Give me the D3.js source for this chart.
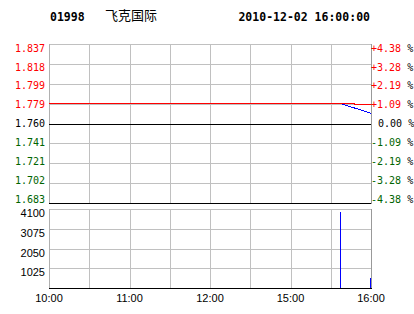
<!DOCTYPE html>
<html><head><meta charset="utf-8">
<script src="https://cdn.jsdelivr.net/npm/d3@7"></script>
<style>
html,body{margin:0;padding:0;background:#fff;}
svg{display:block;}
</style></head>
<body>
<svg id="c" width="414" height="314"></svg>
<script>
// ---- data ----
const stockCode = "01998";
const stockName = "飞克国际";
const stamp = "2010-12-02 16:00:00";
const prevClose = 1.760;
const pctMax = 4.38;
const priceTickLabels = ["1.837","1.818","1.799","1.779","1.760","1.741","1.721","1.702","1.683"];
const pctTickLabels = ["+4.38","+3.28","+2.19","+1.09","0.00","-1.09","-2.19","-3.28","-4.38"];
const volTickValues = [4100, 3075, 2050, 1025];
const timeTickLabels = ["10:00","11:00","12:00","15:00","16:00"];
const priceTimes = ["15:38","16:00"];
const priceValues = [1.779, 1.770];
const avgTimes = ["10:00","15:48","15:48","16:00"];
const avgValues = [1.779, 1.779, 1.778, 1.778];
const volTimes = ["15:38","16:00"];
const volValues = [3950, 520];

// ---- helpers ----
function tradeMin(s){
  const [h,m] = s.split(":").map(Number);
  const t = h*60+m;
  if (t <= 12*60+30) return t - 600;
  return 150 + (t - (14*60+30));
}
const svg = d3.select("#c");
const L = 49, R = 371;
const mTop = 44, mBot = 203, vTop = 209, vBot = 288;
const x = d3.scaleLinear().domain([0,240]).range([L,R]);
const yP = d3.scaleLinear().domain([prevClose*(1-pctMax/100), prevClose*(1+pctMax/100)]).range([mBot,mTop]);
const yLab = d3.scaleLinear().domain([0,8]).range([48,199]);
const yV = d3.scaleLinear().domain([0,4100]).range([vBot,vTop]);
const px = v => Math.round(v)+0.5;
const grid = "#c0c0c0";
const RED="#ff0000", GREEN="#006400", BLACK="#000";

// title
const mono = "'DejaVu Sans Mono','Liberation Mono',monospace";
svg.append("text").attr("x",50).attr("y",20.5).attr("font-family",mono).attr("font-weight","bold")
  .attr("font-size","11.5px").text(stockCode);
svg.append("text").attr("x",105).attr("y",20).attr("font-family","'Noto Sans CJK SC',sans-serif")
  .attr("font-size","13px").text(stockName);
svg.append("text").attr("x",370).attr("y",20.5).attr("text-anchor","end").attr("font-family",mono).attr("font-weight","bold")
  .attr("font-size","11.5px").text(stamp);

const g = svg.append("g").attr("shape-rendering","crispEdges");

// vertical grid lines every 30 min
const vgrid = d3.range(30,240,30);
[[mTop,mBot],[vTop,vBot]].forEach(([t,b])=>{
  g.selectAll(null).data(vgrid).enter().append("line")
    .attr("x1",d=>px(x(d))).attr("x2",d=>px(x(d))).attr("y1",t).attr("y2",b).attr("stroke",grid);
});

// main horizontal grid
const priceTickVals = priceTickLabels.map((_,i)=>prevClose*(1+pctMax/100*(4-i)/4));
g.selectAll(null).data(priceTickVals).enter().append("line")
  .attr("x1",L).attr("x2",R+1).attr("y1",d=>px(yP(d))).attr("y2",d=>px(yP(d)))
  .attr("stroke",(d,i)=> i===4||i===8 ? BLACK : grid);
// borders main
g.append("line").attr("x1",px(L)).attr("x2",px(L)).attr("y1",mTop).attr("y2",mBot).attr("stroke","#b0b0b0");
g.append("line").attr("x1",px(R)).attr("x2",px(R)).attr("y1",mTop).attr("y2",mBot+1).attr("stroke","#999");
// redraw black lines over borders
[4,8].forEach(i=>g.append("line").attr("x1",L).attr("x2",R).attr("y1",px(yP(priceTickVals[i]))).attr("y2",px(yP(priceTickVals[i]))).attr("stroke",BLACK));

// volume grid
g.selectAll(null).data(volTickValues).enter().append("line")
  .attr("x1",L).attr("x2",R+1).attr("y1",d=>px(yV(d))).attr("y2",d=>px(yV(d))).attr("stroke",grid);
g.append("line").attr("x1",px(L)).attr("x2",px(L)).attr("y1",vTop).attr("y2",vBot).attr("stroke","#b0b0b0");
g.append("line").attr("x1",px(R)).attr("x2",px(R)).attr("y1",vTop).attr("y2",vBot).attr("stroke","#999");
g.append("line").attr("x1",L).attr("x2",R+1).attr("y1",px(vBot)).attr("y2",px(vBot)).attr("stroke",BLACK);

// avg line (red)
const line = d3.line().x(d=>x(tradeMin(d[0]))).y(d=>yP(d[1]));
g.append("path").attr("d",line(avgTimes.map((t,i)=>[t,avgValues[i]]))).attr("fill","none").attr("stroke",RED);
// price line (blue)
g.append("path").attr("d",line(priceTimes.map((t,i)=>[t,priceValues[i]]))).attr("fill","none").attr("stroke","#0000ff");

// volume bars
g.selectAll(null).data(volTimes.map((t,i)=>[t,volValues[i]])).enter().append("rect")
  .attr("x",d=>Math.round(x(tradeMin(d[0])))-1).attr("width",1)
  .attr("y",d=>yV(d[1])).attr("height",d=>vBot-yV(d[1])).attr("fill","#0000ff");

// left price labels
const labCol = i => i<4 ? RED : (i===4 ? BLACK : GREEN);
svg.selectAll(null).data(priceTickLabels).enter().append("text")
  .attr("x",45).attr("y",(d,i)=>yLab(i)+3.7).attr("text-anchor","end")
  .attr("font-family",mono).attr("font-size","10px").attr("fill",(d,i)=>labCol(i)).text(d=>d);
// right pct labels
const rt = svg.selectAll(null).data(pctTickLabels).enter().append("text")
  .attr("x",(d,i)=> i===4 ? 372 : 371).attr("y",(d,i)=>yLab(i)+3.7)
  .attr("font-family",mono).attr("font-size","10px").attr("xml:space","preserve");
rt.append("tspan").attr("fill",(d,i)=>labCol(i)).text((d,i)=> i===4 ? " "+d : d);
rt.append("tspan").attr("fill",BLACK).text(" %");

// volume labels
const sans = "'Liberation Sans',Arial,sans-serif";
svg.selectAll(null).data(volTickValues).enter().append("text")
  .attr("x",45).attr("y",d=>Math.round(yV(d))+7.5).attr("text-anchor","end")
  .attr("font-family",sans).attr("font-size","11px").text(d=>d);

// time labels
svg.selectAll(null).data(timeTickLabels).enter().append("text")
  .attr("x",d=>x(tradeMin(d))).attr("y",302).attr("text-anchor","middle")
  .attr("font-family",sans).attr("font-size","11px").text(d=>d);
</script>
</body></html>
